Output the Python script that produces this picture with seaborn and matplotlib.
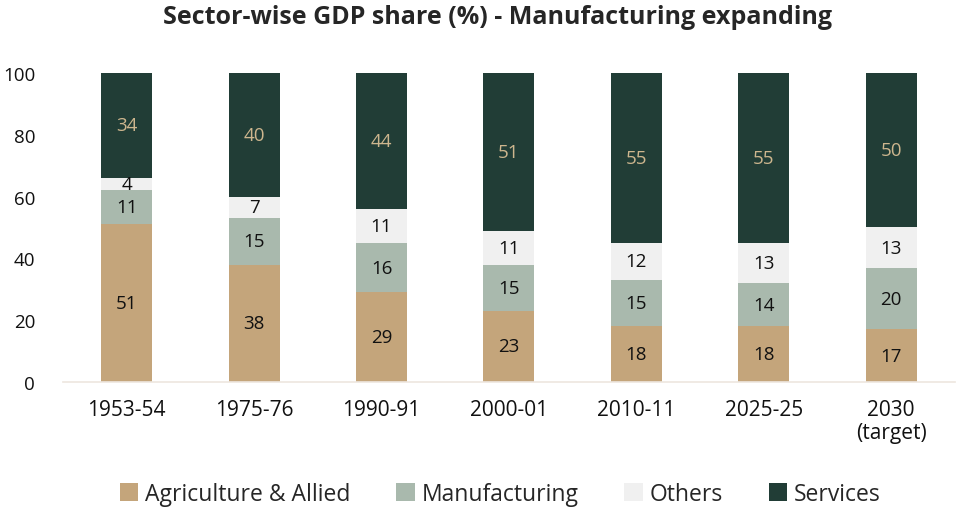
import numpy as np
import pandas as pd
import matplotlib.pyplot as plt
import seaborn as sns

years = ['1953-54', '1975-76', '1990-91', '2000-01', '2010-11', '2025-25', '2030\n(target)']
agriculture = [51, 38, 29, 23, 18, 18, 17]
manufacturing = [11, 15, 16, 15, 15, 14, 20]
others = [4, 7, 11, 11, 12, 13, 13]
services = [34, 40, 44, 51, 55, 55, 50]

series = [
    ('Agriculture & Allied', agriculture, '#C4A57B', '#111111'),
    ('Manufacturing', manufacturing, '#A9B9AD', '#111111'),
    ('Others', others, '#F0F0F0', '#111111'),
    ('Services', services, '#213D36', '#CDB68E'),
]

sns.set_theme(style='white')
plt.rcParams['font.family'] = ['Open Sans', 'DejaVu Sans']

fig = plt.figure(figsize=(9.62, 5.10), dpi=100)
ax = fig.add_axes([0.0655, 0.249, 0.927, 0.606])

bottom = np.zeros(len(years))
for name, vals, color, txtcolor in series:
    df = pd.DataFrame({'year': years, 'value': vals})
    sns.barplot(data=df, x='year', y='value', color=color, bottom=bottom,
                width=0.4, ax=ax, label=name, saturation=1, linewidth=0)
    for i, v in enumerate(vals):
        ax.text(i, bottom[i] + v / 2, str(v), ha='center', va='center',
                fontsize=13.5, color=txtcolor)
    bottom = bottom + np.array(vals)

ax.set_xlim(-0.5, len(years) - 0.5)
ax.set_ylim(0, 100)
ax.set_yticks(range(0, 101, 20))
ax.set_xlabel('')
ax.set_ylabel('')
ax.tick_params(axis='both', length=0, colors='#111111')
ax.tick_params(axis='x', pad=12, labelsize=15)
ax.tick_params(axis='y', pad=20, labelsize=13.5)
for lbl in ax.get_xticklabels():
    lbl.set_linespacing(1.15)
for s in ['top', 'right', 'left']:
    ax.spines[s].set_visible(False)
ax.spines['bottom'].set_color('#EDE6DF')
ax.spines['bottom'].set_linewidth(1.2)

fig.suptitle('Sector-wise GDP share (%) - Manufacturing expanding',
             fontsize=18, fontweight='bold', x=0.517, y=0.99)

handles, labels = ax.get_legend_handles_labels()
fig.legend(handles, labels, loc='lower center', bbox_to_anchor=(0.52, -0.035),
           ncol=4, frameon=False, handlelength=0.8, handleheight=0.8,
           handletextpad=0.3, columnspacing=2.0,
           prop={'size': 16.5})
if ax.get_legend():
    ax.get_legend().remove()

fig.savefig('out.png', dpi=100)
